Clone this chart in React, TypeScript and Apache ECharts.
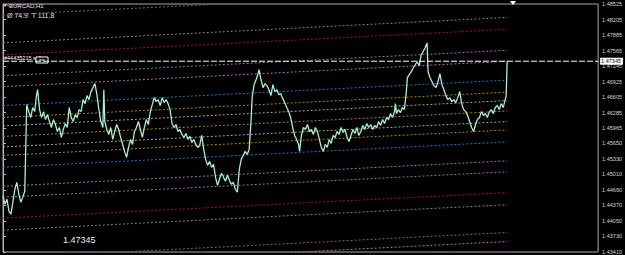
import React, { useEffect, useRef } from "react";
import * as echarts from "echarts";

// ---- data ----
const symbolTitle = "EURCAD,H1";
const infoText = "Ø 74.9  T 111.8";
const orderText = "#44435215 sell";
const orderPrice = 1.47345;
const bigPriceText = "1.47345";

const priceMin = 1.4341;
const priceMax = 1.48525;
const barMax = 602;

const tickLabels = [
  1.48525, 1.48205, 1.47885, 1.47565, 1.47245, 1.46925, 1.46605, 1.46285, 1.45965,
  1.4565, 1.4533, 1.4501, 1.4469, 1.4437, 1.4405, 1.4373, 1.4341,
];

// [bar index, close]
const closes: [number, number][] = [
  [0,1.44560],[2,1.44396],[4,1.44499],[6,1.44252],[8,1.44191],[10,1.44437],[12,1.44704],[14,1.44847],[16,1.44601],[18,1.44437],[20,1.44540],[22,1.44663],[23,1.45526],[24,1.46450],[26,1.46306],[28,1.46183],[30,1.46389],[32,1.46306],[34,1.46655],[35,1.46758],[37,1.46347],[39,1.46183],[41,1.46306],[43,1.46142],[45,1.46244],[47,1.46101],[49,1.45978],[51,1.46142],[53,1.46039],[55,1.45896],[57,1.45978],[59,1.45773],[61,1.45937],[63,1.46060],[65,1.45978],[67,1.46389],[69,1.46183],[71,1.46101],[73,1.46244],[75,1.46183],[77,1.46347],[79,1.46306],[81,1.46553],[83,1.46471],[85,1.46635],[87,1.46553],[89,1.46717],[91,1.46800],[93,1.46882],[95,1.46655],[97,1.46347],[99,1.46101],[101,1.45978],[102,1.46758],[103,1.46101],[105,1.45937],[107,1.45834],[109,1.45978],[111,1.45731],[113,1.45896],[115,1.46039],[117,1.45937],[119,1.45773],[121,1.45628],[123,1.45485],[125,1.45362],[127,1.45567],[129,1.45731],[131,1.45628],[133,1.45896],[135,1.45978],[137,1.46101],[139,1.45937],[141,1.45773],[143,1.45978],[145,1.46142],[147,1.46039],[149,1.46306],[151,1.46450],[153,1.46594],[155,1.46512],[157,1.46553],[159,1.46430],[161,1.46594],[163,1.46491],[165,1.46553],[167,1.46471],[169,1.46347],[171,1.46060],[173,1.45978],[175,1.46039],[177,1.45896],[179,1.45937],[181,1.45834],[183,1.45773],[185,1.45855],[187,1.45731],[189,1.45793],[191,1.45669],[193,1.45731],[195,1.45628],[197,1.45567],[199,1.45608],[201,1.45814],[203,1.45526],[205,1.45320],[207,1.45197],[209,1.45279],[211,1.45156],[213,1.45217],[215,1.44951],[217,1.44786],[219,1.44909],[221,1.45033],[223,1.44951],[225,1.44868],[227,1.44992],[229,1.44888],[231,1.44806],[233,1.44847],[235,1.44704],[237,1.44642],[238,1.44868],[239,1.45115],[241,1.45320],[243,1.45403],[245,1.45485],[247,1.45423],[249,1.45526],[251,1.46142],[252,1.46594],[254,1.46861],[256,1.46964],[258,1.47087],[259,1.47169],[261,1.46964],[263,1.46800],[265,1.46882],[267,1.46841],[269,1.46758],[271,1.46635],[273,1.46861],[275,1.46717],[277,1.46758],[279,1.46655],[281,1.46676],[283,1.46573],[285,1.46491],[287,1.46389],[289,1.46306],[291,1.46183],[293,1.45978],[295,1.45814],[297,1.45731],[299,1.45628],[300,1.45485],[302,1.45834],[304,1.45978],[306,1.45937],[308,1.46039],[310,1.45896],[312,1.45937],[314,1.45834],[316,1.45978],[318,1.45896],[320,1.45731],[322,1.45567],[324,1.45485],[326,1.45628],[328,1.45567],[330,1.45731],[332,1.45649],[334,1.45814],[336,1.45773],[338,1.45896],[340,1.45834],[342,1.45978],[344,1.45875],[346,1.45937],[348,1.45773],[350,1.45690],[352,1.45814],[354,1.45937],[356,1.45855],[358,1.45978],[360,1.45814],[362,1.45896],[364,1.46019],[366,1.45937],[368,1.46060],[370,1.45978],[372,1.46039],[374,1.45937],[376,1.46019],[378,1.45978],[380,1.46101],[382,1.46019],[384,1.46142],[386,1.46060],[388,1.46183],[390,1.46142],[392,1.46265],[394,1.46183],[396,1.46306],[397,1.46471],[398,1.46265],[400,1.46347],[402,1.46285],[404,1.46389],[406,1.46347],[408,1.46717],[409,1.47005],[411,1.47067],[413,1.47128],[415,1.47211],[417,1.47272],[419,1.47334],[421,1.47252],[423,1.47477],[425,1.47539],[427,1.47621],[429,1.47723],[430,1.47128],[432,1.47005],[434,1.46923],[436,1.46841],[438,1.46800],[440,1.46923],[442,1.47087],[444,1.46861],[446,1.46758],[448,1.46635],[450,1.46553],[452,1.46594],[454,1.46512],[456,1.46553],[458,1.46491],[460,1.46594],[462,1.46717],[464,1.46471],[466,1.46347],[468,1.46306],[470,1.46224],[472,1.46101],[474,1.45978],[476,1.45896],[478,1.46039],[480,1.46142],[482,1.46183],[484,1.46306],[486,1.46224],[488,1.46265],[490,1.46183],[492,1.46306],[494,1.46347],[496,1.46265],[498,1.46389],[500,1.46430],[502,1.46347],[504,1.46471],[506,1.46389],[508,1.46553],[509,1.46635],[510,1.47345],
];

// regression-channel levels: centre line from first to last bar, plus symmetric offsets
const channelBars = [0, 510];
const channelCentre = [1.45793, 1.46317];
const levelOffsets = [0, 0.00216, 0.0039, 0.00637, 0.01027, 0.01253, 0.01684, 0.01931, 0.02506, 0.02691];
const levelColors = ["#b8860b", "#a9a9a9", "#b8860b", "#1f78d1", "#c062c8", "#858585", "#c01010", "#858585", "#707070", "#c062c8"];

export default function App() {
  const ref = useRef<HTMLDivElement>(null);
  useEffect(() => {
    document.body.style.margin = "0";
    document.body.style.background = "#000";
    const chart = echarts.init(ref.current!, null, { renderer: "svg" });

    const channelSeries: any[] = [];
    levelOffsets.forEach((off, i) => {
      const signs = off === 0 ? [1] : [1, -1];
      signs.forEach((s) => {
        channelSeries.push({
          type: "line",
          silent: true,
          showSymbol: false,
          symbol: "none",
          z: 2,
          lineStyle: { color: levelColors[i], width: 1, type: [2, 2] },
          data: channelBars.map((b, k) => [b, channelCentre[k] + s * off]),
        });
      });
    });

    const option: any = {
      animation: false,
      backgroundColor: "#000",
      textStyle: { fontFamily: "Liberation Sans" },
      grid: {
        left: 3,
        right: 20,
        top: 4,
        bottom: 2,
        show: true,
        borderColor: "#a8a8a8",
        borderWidth: 1,
        backgroundColor: "#000",
      },
      xAxis: { type: "value", min: 0, max: barMax, show: false },
      yAxis: {
        type: "value",
        position: "right",
        min: priceMin,
        max: priceMax,
        splitLine: { show: false },
        axisLine: { show: true, lineStyle: { color: "#b8b8b8", width: 1 } },
        axisTick: { show: true, length: 3, customValues: tickLabels, lineStyle: { color: "#b8b8b8" } },
        axisLabel: {
          customValues: tickLabels,
          color: "#d8d8d8",
          fontSize: 5.5,
          margin: 4,
          formatter: (v: number) => v.toFixed(5),
        },
      },
      series: [
        ...channelSeries,
        {
          type: "line",
          showSymbol: false,
          symbol: "none",
          z: 5,
          lineStyle: { color: "#a8f0d4", width: 1.3 },
          data: closes,
        },
        {
          type: "line",
          silent: true,
          showSymbol: false,
          symbol: "none",
          z: 6,
          clip: false,
          lineStyle: { color: "#ffffff", width: 1, type: [6, 2] },
          data: [[0, orderPrice], [barMax, orderPrice]],
          endLabel: {
            show: true,
            distance: 2,
            formatter: () => orderPrice.toFixed(5),
            backgroundColor: "#ffffff",
            color: "#000",
            fontSize: 5.5,
            padding: [1, 2, 0, 1],
          },
        },
      ],
      graphic: [
        { type: "polygon", shape: { points: [[3, 4], [7, 4], [5, 7]] }, style: { fill: "#fff" } },
        { type: "text", x: 9, y: 6, style: { text: symbolTitle, fill: "#e8e8e8", font: "6px Liberation Sans", textVerticalAlign: "middle" } },
        { type: "text", x: 7, y: 15, style: { text: infoText, fill: "#e0e0e0", font: "7px Liberation Sans", textVerticalAlign: "middle" } },
        { type: "text", x: 4, y: 58, style: { text: orderText, fill: "#ffffff", font: "5.5px Liberation Sans", textVerticalAlign: "middle" } },
        { type: "rect", shape: { x: 36, y: 57, width: 12, height: 6 }, style: { fill: "#000", stroke: "#fff", lineWidth: 1 } },
        { type: "line", shape: { x1: 39, y1: 60, x2: 45, y2: 60 }, style: { stroke: "#fff", lineWidth: 1 } },
        { type: "polygon", shape: { points: [[510, 1], [516, 1], [513, 5]] }, style: { fill: "#fff" } },
        { type: "text", x: 63, y: 240, style: { text: bigPriceText, fill: "#e6ecff", font: "9px Liberation Sans", textVerticalAlign: "middle" } },
      ],
    };
    chart.setOption(option);
    return () => chart.dispose();
  }, []);
  return <div ref={ref} style={{ width: 625, height: 255, background: "#000" }} />;
}
